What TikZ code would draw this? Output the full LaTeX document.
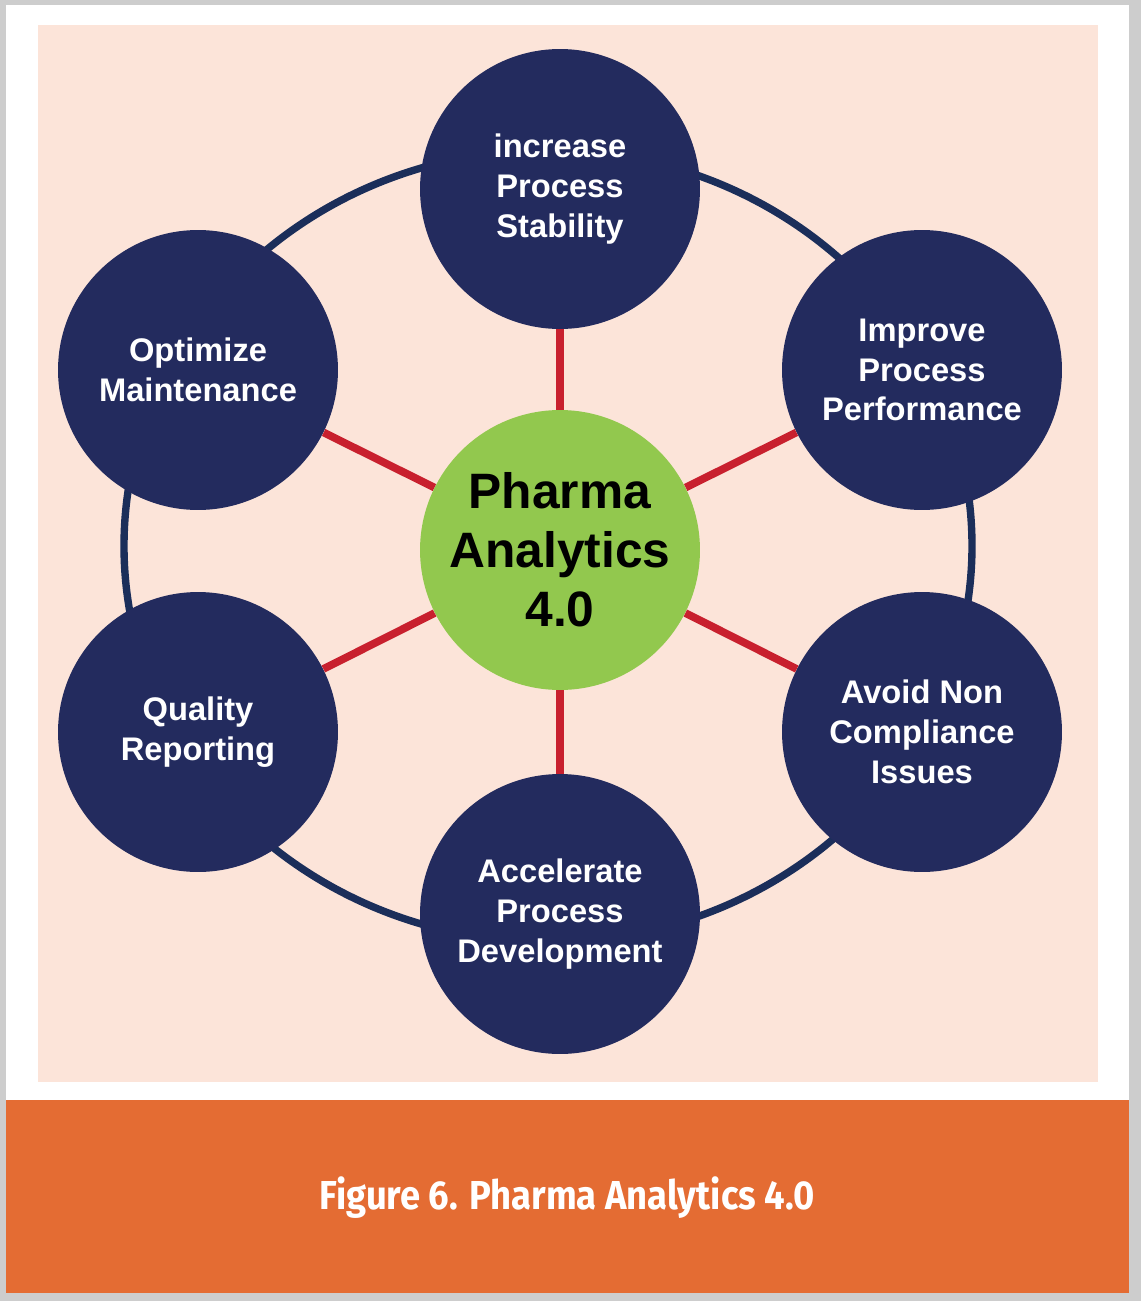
\documentclass[tikz,border=0pt]{standalone}
\usepackage{fontspec}
\setmainfont{Liberation Sans}
\newfontfamily\capfont{Fira Sans}
\usetikzlibrary{shapes.geometric}
\definecolor{shadowgray}{HTML}{CDCDCD}
\definecolor{peach}{HTML}{FCE4D9}
\definecolor{navy}{HTML}{232B5E}
\definecolor{ringblue}{HTML}{1B2E5A}
\definecolor{hubgreen}{HTML}{92C84E}
\definecolor{spokered}{HTML}{C8202E}
\definecolor{banner}{HTML}{E46C33}
\tikzstyle{goal} = [
    circle,
    minimum size=5.6cm,
    inner sep=0pt,
    fill=navy,
    text=white,
    align=center,
    font=\bfseries\fontsize{18.6}{22.7}\selectfont
]
\tikzstyle{hub} = [
    circle,
    minimum size=5.6cm,
    inner sep=0pt,
    fill=hubgreen,
    text=black,
    align=center,
    font=\bfseries\fontsize{28.3}{33.6}\selectfont
]
\tikzstyle{spoke} = [line width=4.4pt, draw=spokered]
\tikzstyle{ring} = [line width=4.2pt, draw=ringblue]

\begin{document}
\begin{tikzpicture}[x=0.02cm, y=-0.02cm]

\useasboundingbox (0,0) rectangle (1141,1301);

% frame and panels
\fill [shadowgray] (0,0) rectangle (1141,1301);
\fill [white] (6,5) rectangle (1129,1100);
\fill [peach] (38,25) rectangle (1098,1082);
\fill [banner] (6,1100) rectangle (1129,1293);

\draw [ring] (548,546) ellipse [x radius=424, y radius=396];

\node (hub) [hub] at (560,550)
{Pharma\\Analytics\\4.0};

\node (stability) [goal] at (560,189)
{increase\\Process\\Stability};

\node (performance) [goal] at (922,370)
{Improve\\Process\\Performance};

\node (compliance) [goal] at (922,732)
{Avoid Non\\Compliance\\Issues};

\node (development) [goal] at (560,914)
{Accelerate\\Process\\Development};

\node (reporting) [goal] at (198,732)
{Quality\\Reporting};

\node (maintenance) [goal] at (198,370)
{Optimize\\Maintenance};

\draw [spoke] (hub) -- (stability);
\draw [spoke] (hub) -- (performance);
\draw [spoke] (hub) -- (compliance);
\draw [spoke] (hub) -- (development);
\draw [spoke] (hub) -- (reporting);
\draw [spoke] (hub) -- (maintenance);

\node (caption) at (567,1198)
{\scalebox{0.9}[1]{\capfont\bfseries\color{white}\fontsize{23}{27}\selectfont Figure 6. Pharma Analytics 4.0}};

\end{tikzpicture}
\end{document}
